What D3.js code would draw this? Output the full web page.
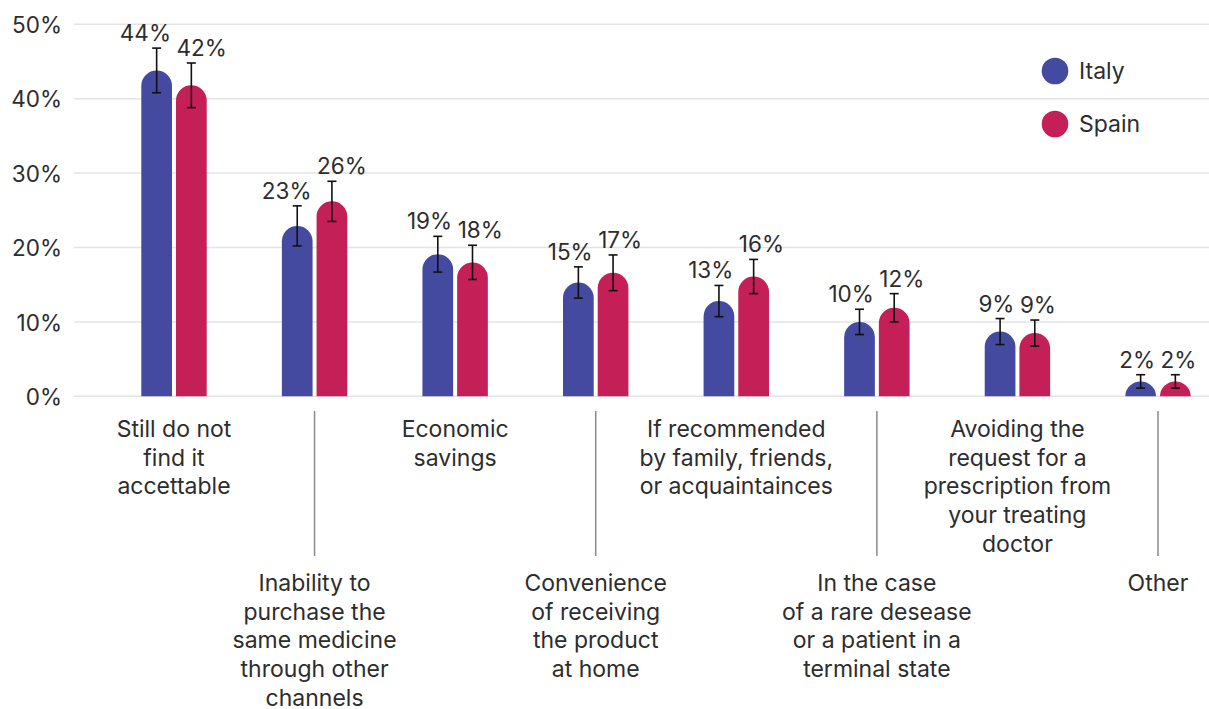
<!DOCTYPE html>
<html>
<head>
<meta charset="utf-8">
<script src="https://cdn.jsdelivr.net/npm/d3@7"></script>
<style>
  html, body { margin: 0; padding: 0; background: #fff; }
  svg text { font-family: Inter, "Noto Sans", sans-serif; fill: #2d2d2d; }
</style>
</head>
<body>
<svg id="chart" width="1209" height="709"></svg>
<script>
// ---------- data ----------
const categories = [
  ["Still do not", "find it", "accettable"],
  ["Inability to", "purchase the", "same medicine", "through other", "channels"],
  ["Economic", "savings"],
  ["Convenience", "of receiving", "the product", "at home"],
  ["If recommended", "by family, friends,", "or acquaintainces"],
  ["In the case", "of a rare desease", "or a patient in a", "terminal state"],
  ["Avoiding the", "request for a", "prescription from", "your treating", "doctor"],
  ["Other"]
];
const seriesNames = ["Italy", "Spain"];
const italyValues = [43.8, 22.9, 19.1, 15.3, 12.8, 10.0, 8.7, 2.0];
const spainValues = [41.8, 26.2, 18.0, 16.6, 16.1, 11.9, 8.5, 2.0];
const italyErrors = [3.0, 2.7, 2.4, 2.1, 2.1, 1.7, 1.75, 0.9];
const spainErrors = [3.0, 2.7, 2.3, 2.4, 2.3, 1.9, 1.75, 0.9];
const yTicks = [0, 10, 20, 30, 40, 50];

const colors = { Italy: "#434a9f", Spain: "#c41f56" };

// ---------- layout ----------
const svg = d3.select("#chart");
const W = 1209;
const gridLeft = 74;

const catIdx = categories.map((_, i) => i);
const x = d3.scalePoint().domain(catIdx).range([174, 1158]);
const barW = 30.7, barGap = 4;
const xSub = d3.scaleOrdinal().domain(seriesNames)
  .range([-(barGap / 2 + barW), barGap / 2]);

const y = d3.scaleLinear().domain([0, 50]).range([396.3, 24.3]);

// gridlines
svg.append("g").selectAll("line").data(yTicks).join("line")
  .attr("x1", gridLeft).attr("x2", W)
  .attr("y1", d => y(d)).attr("y2", d => y(d))
  .attr("stroke", "#e4e4e4").attr("stroke-width", 1.5);

// y axis labels
const yAxis = d3.axisLeft(y).tickValues(yTicks).tickFormat(d => d + "%").tickSize(0).tickPadding(0);
const ya = svg.append("g").attr("transform", "translate(62,0)").call(yAxis);
ya.select(".domain").remove();
ya.selectAll("text").attr("font-size", 22.5).attr("fill", "#2d2d2d")
  .attr("font-family", "Inter, sans-serif").attr("dy", "0.36em");

// data rows
const rows = [];
catIdx.forEach(i => {
  rows.push({ i, s: "Italy", v: italyValues[i], e: italyErrors[i] });
  rows.push({ i, s: "Spain", v: spainValues[i], e: spainErrors[i] });
});

function barPath(d) {
  const x0 = x(d.i) + xSub(d.s);
  const yb = y(0), yt = y(d.v);
  const h = yb - yt;
  const rx = barW / 2;
  const ry = Math.min(rx, h);
  return `M${x0},${yb}V${yt + ry}A${rx},${ry} 0 0 1 ${x0 + barW},${yt + ry}V${yb}Z`;
}

svg.append("g").selectAll("path").data(rows).join("path")
  .attr("d", barPath)
  .attr("fill", d => colors[d.s]);

// error bars
const eg = svg.append("g").attr("stroke", "#111").attr("stroke-width", 1.6);
rows.forEach(d => {
  const cx = x(d.i) + xSub(d.s) + barW / 2;
  const y1 = y(d.v + d.e), y2 = y(d.v - d.e);
  eg.append("line").attr("x1", cx).attr("x2", cx).attr("y1", y1).attr("y2", y2);
  eg.append("line").attr("x1", cx - 4.5).attr("x2", cx + 4.5).attr("y1", y1).attr("y2", y1);
  eg.append("line").attr("x1", cx - 4.5).attr("x2", cx + 4.5).attr("y1", y2).attr("y2", y2);
});

// value labels
svg.append("g").selectAll("text").data(rows).join("text")
  .attr("x", d => d.s === "Italy" ? x(d.i) + xSub(d.s) + barW - 1 : x(d.i) + xSub(d.s) + 0.5)
  .attr("y", d => y(d.v + d.e) - 7)
  .attr("text-anchor", d => d.s === "Italy" ? "end" : "start")
  .attr("font-size", 22.5)
  .text(d => Math.round(d.v) + "%");

// category labels, alternating rows
const lineH = 28.7;
const cg = svg.append("g");
catIdx.forEach(i => {
  const lower = i % 2 === 1;
  const cx = x(i);
  if (lower) {
    cg.append("line").attr("x1", cx).attr("x2", cx).attr("y1", 411).attr("y2", 556)
      .attr("stroke", "#8a8a8a").attr("stroke-width", 1.5);
  }
  const t = cg.append("text").attr("text-anchor", "middle").attr("font-size", 23);
  categories[i].forEach((ln, k) => {
    t.append("tspan").attr("x", cx).attr("y", (lower ? 591 : 437) + k * lineH).text(ln);
  });
});

// legend
const lg = svg.append("g");
seriesNames.forEach((s, k) => {
  const cy = 71 + k * 53;
  lg.append("circle").attr("cx", 1055).attr("cy", cy).attr("r", 13.3).attr("fill", colors[s]);
  lg.append("text").attr("x", 1079).attr("y", cy + 8).attr("font-size", 23).text(s);
});
</script>
</body>
</html>
